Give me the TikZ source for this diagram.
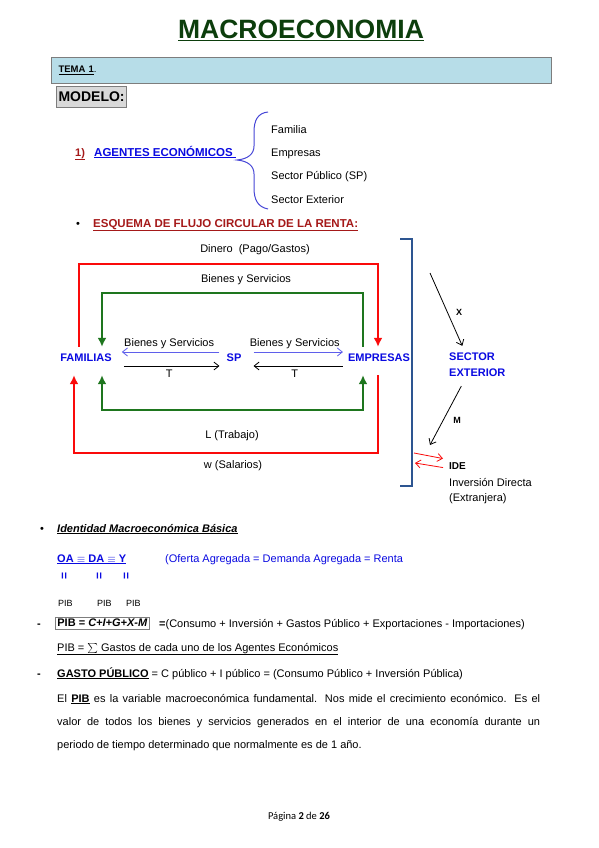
\documentclass[tikz,border=0pt]{standalone}
\usepackage{fontspec}
\setmainfont{Liberation Sans}
\newfontfamily\pagfont{Carlito}
\usetikzlibrary{arrows.meta}

\definecolor{verdeTit}{RGB}{12,62,12}
\definecolor{azulTema}{RGB}{183,221,232}
\definecolor{grisModelo}{RGB}{217,217,217}
\definecolor{bordeGris}{RGB}{125,125,125}
\definecolor{granate}{RGB}{165,25,25}
\definecolor{azulAg}{RGB}{10,10,225}
\definecolor{azulLlave}{RGB}{70,70,215}
\definecolor{azulFlecha}{RGB}{95,95,235}
\definecolor{rojoFlujo}{RGB}{250,10,10}
\definecolor{verdeFlujo}{RGB}{30,118,30}
\definecolor{azulCorchete}{RGB}{45,85,145}

\begin{document}
\begin{tikzpicture}[x=1pt,y=-1pt,
    texto/.style={anchor=base west, inner sep=0pt, font=\fontsize{11}{13}\selectfont},
    etiqueta/.style={inner sep=1pt, text=black, font=\fontsize{11}{13}\selectfont},
    agente/.style={text=azulAg, font=\fontsize{11}{13}\selectfont\bfseries, text height=8pt, text depth=8pt, inner xsep=3pt, inner ysep=6pt},
    rojo/.style={draw=rojoFlujo, line width=2.4pt},
    verde/.style={draw=verdeFlujo, line width=2.4pt},
    punta/.style={-{Latex[length=9pt,width=9pt]}},
    fina/.style={line width=0.8pt, -{Straight Barb[length=5pt,width=8pt]}},
    marca/.style={rotate=90, text=azulAg, font=\fontsize{12}{13}\selectfont\bfseries, inner sep=0pt}]

  \fill[white] (0,0) rectangle (599,848);
  \path[use as bounding box] (0,0) rectangle (599,848);

  % cabecera
  \node[anchor=base, text=verdeTit, font=\fontsize{26.5}{30}\selectfont\bfseries] (titulo) at (301,39) {\underline{MACROECONOMIA}};
  \node[draw=bordeGris, fill=azulTema, line width=1pt, anchor=north west, minimum width=500pt, minimum height=26pt,
        text width=486pt, align=left, inner xsep=7pt, font=\fontsize{9.5}{11}\selectfont] (tema) at (51,57) {\underline{\textbf{TEMA 1}}.};
  \node[draw=bordeGris, fill=grisModelo, line width=1pt, anchor=north west, minimum height=21pt, inner xsep=2pt,
        font=\fontsize{14}{16}\selectfont\bfseries] (modelo) at (56,86) {MODELO:};

  % agentes
  \node[texto, text=granate, font=\fontsize{11}{13}\selectfont\bfseries] (num) at (75,156) {\underline{1)}};
  \node[texto, text=azulAg, font=\fontsize{11.5}{13}\selectfont\bfseries] (agentes) at (94,156) {\underline{AGENTES ECONÓMICOS\ }};
  \draw[azulLlave, line width=1pt] (268,112) .. controls (258,113) and (254,120) .. (254,132) -- (254,146)
       .. controls (254,154) and (248,159) .. (237,160) .. controls (248,161) and (254,166) .. (254,174)
       -- (254,188) .. controls (254,200) and (258,207) .. (268,209);
  \node[texto] (familia) at (271,133) {Familia};
  \node[texto] (empresas) at (271,157) {Empresas};
  \node[texto] (sectorp) at (271,179) {Sector Público (SP)};
  \node[texto] (sectore) at (271,203) {Sector Exterior};

  \node[texto] (vineta1) at (76,227) {•};
  \node[texto, text=granate, font=\fontsize{11.5}{13}\selectfont\bfseries] (esquema) at (93,227) {\underline{ESQUEMA DE FLUJO CIRCULAR DE LA RENTA:}};

  % flujo circular
  \node[agente] (fam) at (86,361) {FAMILIAS};
  \node[agente] (sp) at (234,361) {SP};
  \node[agente] (emp) at (379,361) {EMPRESAS};

  \coordinate (rojoSup) at (230,264);
  \coordinate (verdeSup) at (230,293);
  \coordinate (verdeInf) at (230,410);
  \coordinate (rojoInf) at (230,453);
  \coordinate (nivA) at (0,352);
  \coordinate (nivT) at (0,366);

  \draw[rojo, punta] ([xshift=-7pt]fam.north) |- (rojoSup) -| ([xshift=-1pt]emp.north);
  \draw[verde, punta] ([xshift=-16pt]emp.north) |- (verdeSup) -| ([xshift=16pt]fam.north);
  \draw[verde, {Latex[length=9pt,width=9pt]}-{Latex[length=9pt,width=9pt]}] ([xshift=16pt]fam.south) |- (verdeInf) -| ([xshift=-16pt]emp.south);
  \draw[rojo, {Latex[length=9pt,width=9pt]}-] ([xshift=-12pt]fam.south) |- (rojoInf) -| ([xshift=-1pt]emp.south);

  \node[etiqueta] (dinero) at (255,250) {Dinero\ \ (Pago/Gastos)};
  \node[etiqueta] (bienes) at (246,280) {Bienes y Servicios};
  \node[etiqueta] (trabajo) at (232,436) {L (Trabajo)};
  \node[etiqueta] (salarios) at (233,466) {w (Salarios)};

  \draw[fina, azulFlecha, shorten <=4pt, shorten >=7pt] (sp.west |- nivA) -- (fam.east |- nivA)
       node[midway, above=1.5pt, etiqueta] (bsizq) {Bienes y Servicios};
  \draw[fina, azulFlecha, shorten <=9pt, shorten >=2pt] (sp.east |- nivA) -- (emp.west |- nivA)
       node[midway, above=1.5pt, etiqueta] (bsder) {Bienes y Servicios};
  \draw[fina, shorten <=9pt, shorten >=4pt] (fam.east |- nivT) -- (sp.west |- nivT)
       node[midway, below=3pt, etiqueta] (tizq) {T};
  \draw[fina, shorten <=2pt, shorten >=9pt] (emp.west |- nivT) -- (sp.east |- nivT)
       node[midway, below=3pt, etiqueta] (tder) {T};

  % sector exterior
  \draw[azulCorchete, line width=2.5pt] (400,239) -- (412,239) -- (412,486) -- (400,486);
  \node[anchor=west, align=left, text=azulAg, inner sep=3pt, font=\fontsize{11}{16}\selectfont\bfseries] (sext) at (446,365) {SECTOR\\EXTERIOR};
  \coordinate (xini) at (430,273);
  \coordinate (mfin) at (430,445);
  \coordinate (corA) at (414,453);
  \coordinate (corB) at (415,463);
  \draw[fina] (xini) -- ([xshift=-15pt,yshift=4pt]sext.north);
  \draw[fina] ([xshift=-16pt,yshift=-6pt]sext.south) -- (mfin);
  \node[font=\fontsize{9}{11}\selectfont\bfseries] (xlab) at (459,312) {X};
  \node[font=\fontsize{9}{11}\selectfont\bfseries] (mlab) at (457,420) {M};

  \node[texto, font=\fontsize{10}{12}\selectfont\bfseries] (ide) at (449,469) {IDE};
  \node[texto] (inver) at (449,486) {Inversión Directa};
  \node[texto] (extr) at (449,501) {(Extranjera)};
  \draw[fina, rojoFlujo] (corA) -- ([xshift=-6pt,yshift=7pt]ide.west);
  \draw[fina, rojoFlujo] ([xshift=-6pt,yshift=-2pt]ide.west) -- (corB);

  % identidad macroeconomica
  \node[texto] (vineta2) at (40,532) {•};
  \node[texto, font=\fontsize{11}{13}\selectfont\bfseries\itshape] (ident) at (57,532) {\underline{Identidad Macroeconómica Básica}};
  \node[texto, text=azulAg, font=\fontsize{11}{13}\selectfont\bfseries] (oada) at (57,562) {\underline{OA $\equiv$ DA $\equiv$ Y}};
  \node[texto, text=azulAg] (oferta) at (165,562) {(Oferta Agregada = Demanda Agregada = Renta};
  \foreach \x/\n in {65/a,100/b,127/c}
    \node[marca] (marca\n) at (\x,576) {=};
  \foreach \x/\n in {58/a,97/b,126/c}
    \node[texto, font=\fontsize{9}{11}\selectfont] (pib\n) at (\x,606) {PIB};

  \node[texto, font=\fontsize{11}{13}\selectfont\bfseries] (guion1) at (37,627) {-};
  \node[draw=bordeGris, line width=0.8pt, anchor=west, inner xsep=2pt, inner ysep=2pt,
        font=\fontsize{11}{13}\selectfont] (pibcaja) at (55,623) {\textbf{PIB = \textit{C+I+G+X-M}}};
  \node[texto] (consumo) at (159,627) {\textbf{=}(Consumo + Inversión + Gastos Público + Exportaciones - Importaciones)};
  \node[texto] (suma) at (57,651) {\underline{PIB = $\sum$ Gastos de cada uno de los Agentes Económicos}};
  \node[texto, font=\fontsize{11}{13}\selectfont\bfseries] (guion2) at (37,677) {-};
  \node[texto] (gasto) at (57,677) {\underline{\textbf{GASTO PÚBLICO}} = C público + I público = (Consumo Público + Inversión Pública)};

  \node[texto] (parr1) at (57,702) {\makebox[483pt][s]{El \underline{\textbf{PIB}} es la variable macroeconómica fundamental. Nos mide el crecimiento económico. Es el}};
  \node[texto] (parr2) at (57,725) {\makebox[483pt][s]{valor de todos los bienes y servicios generados en el interior de una economía durante un}};
  \node[texto] (parr3) at (57,748) {periodo de tiempo determinado que normalmente es de 1 año.};

  \node[anchor=base, inner sep=0pt, font=\pagfont\fontsize{10.5}{12}\selectfont] (pagina) at (299,819) {Página \textbf{2} de \textbf{26}};
\end{tikzpicture}
\end{document}
